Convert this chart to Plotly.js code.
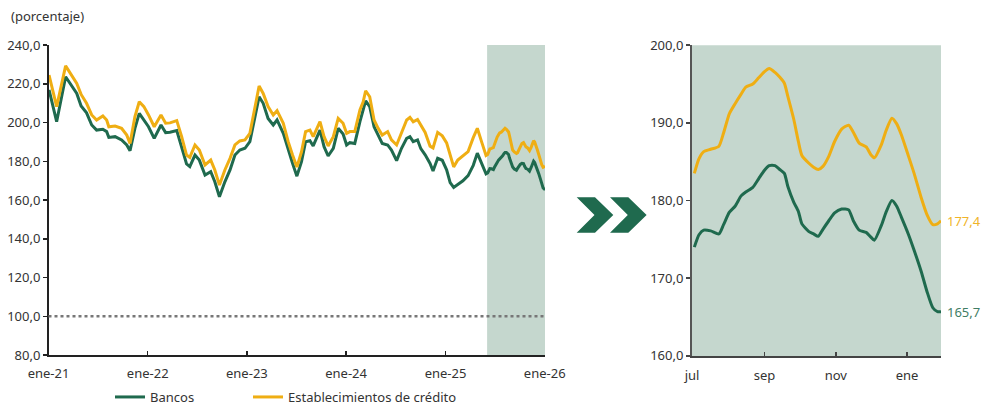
<!DOCTYPE html>
<html>
<head>
<meta charset="utf-8">
<script src="https://cdn.plot.ly/plotly-3.0.1.min.js"></script>
<style>html,body{margin:0;padding:0;background:#fff}#chart{width:985px;height:406px}</style>
</head>
<body>
<div id="chart"></div>
<script>
// ---- Data ----
const seriesNames = ['Bancos', 'Establecimientos de crédito'];

// Left panel history (before the highlighted period)
const histDates = ['2021-01-31','2021-02-28','2021-04-02','2021-04-24','2021-05-13','2021-05-29','2021-06-18','2021-07-07','2021-07-25','2021-08-17','2021-08-31','2021-09-08','2021-10-01','2021-10-25','2021-11-13','2021-11-25','2021-12-13','2021-12-29',
'2022-01-15','2022-02-01','2022-02-22','2022-03-19','2022-04-05','2022-04-21','2022-05-16','2022-06-03','2022-06-21','2022-07-03','2022-07-22','2022-08-07','2022-08-28','2022-09-18','2022-10-03','2022-10-20','2022-11-09','2022-11-28','2022-12-16',
'2023-01-03','2023-01-22','2023-02-09','2023-02-28','2023-03-15','2023-03-30','2023-04-17','2023-05-06','2023-05-20','2023-06-12','2023-06-30','2023-07-16','2023-08-01','2023-08-18','2023-09-02','2023-09-18','2023-09-30','2023-10-25','2023-11-09','2023-11-24','2023-12-13','2023-12-31',
'2024-01-18','2024-01-31','2024-02-12','2024-03-01','2024-03-20','2024-04-01','2024-04-10','2024-04-25','2024-05-11','2024-05-26','2024-06-10','2024-06-30','2024-07-14','2024-08-02','2024-08-20','2024-09-08','2024-09-20','2024-10-02','2024-10-18','2024-10-30','2024-11-15','2024-12-03','2024-12-14','2024-12-31',
'2025-01-17','2025-02-02','2025-02-15','2025-02-28','2025-03-15','2025-04-03','2025-04-22','2025-05-11','2025-05-26','2025-06-12','2025-06-27'];

const histEstab = [224.5,208.2,229.2,224.5,220.2,214.5,209.9,203.9,201.3,203.4,201.3,197.8,198.2,197.0,193.5,189.2,203.0,210.7,
208.2,203.9,197.8,203.9,199.6,199.8,201.0,192.7,183.2,182.0,188.4,185.8,178.1,180.6,175.5,167.7,175.5,181.5,188.4,
190.5,191.0,194.4,208.2,218.8,215.0,208.2,203.9,206.1,199.6,190.1,183.2,177.0,184.9,195.3,196.1,192.7,200.4,192.7,187.9,192.7,202.1,
199.6,194.4,195.3,195.3,206.5,210.7,216.4,213.3,201.3,197.0,193.5,195.3,191.0,188.4,194.4,201.3,202.6,200.4,201.6,199.0,194.9,187.8,186.9,194.9,
193.1,189.5,183.3,177.1,180.6,182.8,185.0,192.2,197.0,189.5,183.0];

const histBancos = [216.8,200.4,223.6,218.8,215.0,208.5,205.0,198.7,196.1,196.5,195.3,192.3,192.7,191.0,188.4,185.4,197.0,204.7,
201.3,197.8,191.8,198.7,194.8,195.0,195.8,187.5,178.6,177.2,183.2,180.6,172.9,174.6,169.4,161.7,169.4,175.5,183.2,
185.8,186.7,190.1,203.0,213.3,209.9,202.1,198.7,201.3,194.4,185.8,178.9,172.3,179.8,190.1,190.6,187.9,196.1,187.5,182.7,186.7,197.0,
194.1,188.4,189.6,189.2,200.4,206.5,211.2,208.2,197.8,193.5,189.2,188.4,185.8,180.3,186.7,191.8,192.7,190.1,191.0,186.5,183.3,178.9,175.0,181.5,
180.5,175.6,169.0,166.5,168.2,169.9,172.6,177.9,184.2,178.9,173.5];

// Highlighted period (Jul 2025 - Jan 2026), shown in the right panel
const recentDates = ['2025-07-03','2025-07-07','2025-07-11','2025-07-17','2025-07-24','2025-07-28','2025-08-02','2025-08-07','2025-08-12','2025-08-16','2025-08-22','2025-08-27',
'2025-09-01','2025-09-05','2025-09-10','2025-09-14','2025-09-18','2025-09-21','2025-09-26','2025-09-30','2025-10-03','2025-10-09','2025-10-13','2025-10-17','2025-10-21','2025-10-26','2025-10-31',
'2025-11-06','2025-11-12','2025-11-16','2025-11-21','2025-11-27','2025-12-01','2025-12-04','2025-12-10','2025-12-14','2025-12-19','2025-12-23','2025-12-27',
'2026-01-02','2026-01-07','2026-01-13','2026-01-18','2026-01-23','2026-01-27','2026-01-30'];

const recentEstab = [183.5,185.4,186.3,186.6,187.0,188.7,191.2,192.5,193.7,194.6,195.0,195.8,
196.6,197.0,196.5,195.9,195.1,193.4,190.5,187.6,185.8,184.8,184.3,184.0,184.4,185.7,187.6,
189.2,189.7,188.8,187.4,186.9,185.9,185.5,187.2,189.0,190.6,189.9,188.5,
185.8,183.5,180.4,178.2,176.9,177.0,177.4];

const recentBancos = [174.0,175.6,176.2,176.1,175.7,176.9,178.5,179.3,180.6,181.1,181.7,182.8,
183.9,184.5,184.5,184.0,183.5,181.8,179.8,178.6,177.0,176.0,175.7,175.4,176.3,177.4,178.4,
178.9,178.8,177.4,176.2,175.9,175.3,174.9,176.8,178.5,180.0,179.3,177.9,
175.7,173.6,170.9,168.3,166.2,165.7,165.7];

const leftTickDates = ['2021-01-29','2022-01-29','2023-01-29','2024-01-29','2025-01-29','2026-01-29'];
const leftTickLabels = ['ene-21','ene-22','ene-23','ene-24','ene-25','ene-26'];
const rightTickDates = ['2025-07-01','2025-09-01','2025-11-01','2026-01-01'];
const rightTickLabels = ['jul','sep','nov','ene'];
const leftRange = ['2021-01-29','2026-01-30'];
const rightRange = ['2025-07-01','2026-01-30'];
const highlightStart = '2025-07-01';
const referenceLevel = 100;

// ---- Styles ----
const GREEN = '#1f6a4e';
const YELLOW = '#efae13';
const SHADE = '#c5d7ce';
const W = 985, H = 406;

const allDates = histDates.concat(recentDates);
const allBancos = histBancos.concat(recentBancos);
const allEstab = histEstab.concat(recentEstab);

const traces = [
  {x: allDates, y: allBancos, name: seriesNames[0], type: 'scatter', mode: 'lines', legend: 'legend',
   line: {color: GREEN, width: 3}, xaxis: 'x', yaxis: 'y'},
  {x: allDates, y: allEstab, name: seriesNames[1], type: 'scatter', mode: 'lines', legend: 'legend2',
   line: {color: YELLOW, width: 3}, xaxis: 'x', yaxis: 'y'},
  {x: recentDates, y: recentBancos, name: seriesNames[0], type: 'scatter', mode: 'lines', showlegend: false,
   line: {color: GREEN, width: 3, shape: 'spline', smoothing: 0.6}, xaxis: 'x2', yaxis: 'y2'},
  {x: recentDates, y: recentEstab, name: seriesNames[1], type: 'scatter', mode: 'lines', showlegend: false,
   line: {color: YELLOW, width: 3, shape: 'spline', smoothing: 0.6}, xaxis: 'x2', yaxis: 'y2'}
];

function px(x){return x / W;}
function py(y){return 1 - y / H;}
function chevron(x0){
  const pts = [[x0,197.3],[x0+18.3,197.3],[x0+36.6,215],[x0+18.3,232.7],[x0,232.7],[x0+17.8,215]];
  return 'M' + pts.map(p => px(p[0]).toFixed(5) + ',' + py(p[1]).toFixed(5)).join(' L') + ' Z';
}

const fmt = v => v.toFixed(1).replace('.', ',');
const axisFont = {family: 'Noto Sans, sans-serif', size: 13, color: '#333'};
const legendBase = {orientation: 'h', xanchor: 'left', xref: 'container', yref: 'container',
                    y: py(397), yanchor: 'middle', font: axisFont, bgcolor: 'rgba(0,0,0,0)'};

const layout = {
  width: W, height: H,
  margin: {l: 0, r: 0, t: 0, b: 0, autoexpand: false},
  paper_bgcolor: '#ffffff', plot_bgcolor: 'rgba(0,0,0,0)',
  separators: ', ',
  font: axisFont,
  showlegend: true,
  legend: Object.assign({}, legendBase, {x: 110 / W}),
  legend2: Object.assign({}, legendBase, {x: 248 / W}),
  xaxis: {domain: [48.5 / W, 545 / W], type: 'date', range: leftRange, anchor: 'y',
          tickvals: leftTickDates, ticktext: leftTickLabels, tickfont: axisFont, ticklabelstandoff: 6,
          showline: true, linecolor: '#222', linewidth: 1.5, ticks: 'inside', ticklen: 4, tickcolor: '#222', tickwidth: 1.5,
          showgrid: false, zeroline: false},
  yaxis: {domain: [51 / H, 361 / H], range: [80, 240], tick0: 80, dtick: 20, tickformat: '.1f', anchor: 'x',
          tickfont: axisFont, showline: true, linecolor: '#222', linewidth: 1.5, ticks: 'outside', ticklen: 4,
          tickcolor: '#222', tickwidth: 1.5, showgrid: false, zeroline: false},
  xaxis2: {domain: [692 / W, 941 / W], type: 'date', range: rightRange, anchor: 'y2',
           tickvals: rightTickDates, ticktext: rightTickLabels, tickfont: axisFont, ticklabelstandoff: 6,
           showline: true, linecolor: '#444', linewidth: 2, ticks: 'inside', ticklen: 4, tickcolor: '#444', tickwidth: 1.5,
           showgrid: false, zeroline: false},
  yaxis2: {domain: [50.1 / H, 360.8 / H], range: [160, 200], tick0: 160, dtick: 10, tickformat: '.1f', anchor: 'x2',
           tickfont: axisFont, showline: true, linecolor: '#555', linewidth: 2, ticks: 'outside', ticklen: 4,
           tickcolor: '#444', tickwidth: 1.5, showgrid: false, zeroline: false},
  shapes: [
    {type: 'rect', layer: 'below', xref: 'x', yref: 'y domain', x0: highlightStart, x1: leftRange[1], y0: 0, y1: 1,
     fillcolor: SHADE, line: {width: 0}},
    {type: 'rect', layer: 'below', xref: 'x2 domain', yref: 'y2 domain', x0: 0, x1: 1, y0: 0, y1: 1,
     fillcolor: SHADE, line: {width: 0}},
    {type: 'line', layer: 'above', xref: 'x domain', yref: 'y', x0: 0, x1: 1, y0: referenceLevel, y1: referenceLevel,
     line: {color: '#777', width: 2.5, dash: 'dot'}},
    {type: 'path', xref: 'paper', yref: 'paper', path: chevron(576.7), fillcolor: GREEN, line: {width: 0}},
    {type: 'path', xref: 'paper', yref: 'paper', path: chevron(610), fillcolor: GREEN, line: {width: 0}}
  ],
  annotations: [
    {text: '(porcentaje)', xref: 'paper', yref: 'paper', x: 9 / W, y: py(16), xanchor: 'left', yanchor: 'middle',
     showarrow: false, font: axisFont},
    {text: fmt(recentEstab[recentEstab.length - 1]), xref: 'x2', yref: 'y2',
     x: recentDates[recentDates.length - 1], y: recentEstab[recentEstab.length - 1],
     xanchor: 'left', yanchor: 'middle', xshift: 4, showarrow: false,
     font: {family: 'Noto Sans, sans-serif', size: 13, color: '#f0b429'}},
    {text: fmt(recentBancos[recentBancos.length - 1]), xref: 'x2', yref: 'y2',
     x: recentDates[recentDates.length - 1], y: recentBancos[recentBancos.length - 1],
     xanchor: 'left', yanchor: 'middle', xshift: 4, showarrow: false,
     font: {family: 'Noto Sans, sans-serif', size: 13, color: '#3f7d64'}}
  ]
};

Plotly.newPlot('chart', traces, layout, {displayModeBar: false, staticPlot: true});
</script>
</body>
</html>
